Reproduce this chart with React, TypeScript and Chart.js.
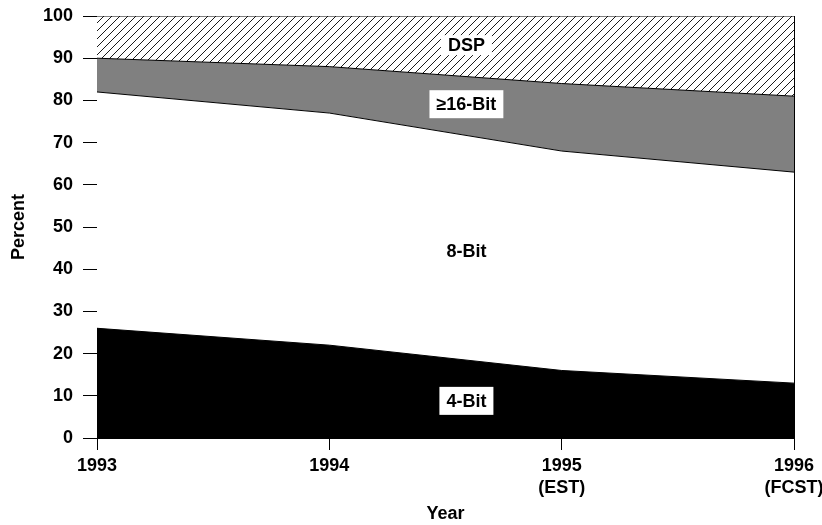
import React, { useEffect, useRef } from "react";
import { Chart, registerables } from "chart.js";

Chart.register(...registerables);

const years = [1993, 1994, 1995, 1996];
const xTickLabels: Record<number, string[]> = {
  1993: ["1993"],
  1994: ["1994"],
  1995: ["1995", "(EST)"],
  1996: ["1996", "(FCST)"],
};
// upper boundary of each band (percent, cumulative)
const fourBitTop = [26, 22, 16, 13];
const eightBitTop = [82, 77, 68, 63];
const sixteenBitTop = [90, 88, 84, 81];
const dspTop = [100, 100, 100, 100];

const labelTexts = ["DSP", "\u226516-Bit", "8-Bit", "4-Bit"];
const labelX = [1994.59, 1994.59, 1994.59, 1994.59];
const labelY = [93.1, 79.1, 44.2, 8.8];
const labelBox = [true, true, false, true];

const FONT = "'Liberation Sans', Arial, sans-serif";

function makeHatch(): CanvasPattern | string {
  const c = document.createElement("canvas");
  c.width = 8;
  c.height = 8;
  const g = c.getContext("2d");
  if (!g) return "#fff";
  g.fillStyle = "#fff";
  g.fillRect(0, 0, 8, 8);
  g.strokeStyle = "#000";
  g.lineWidth = 0.9;
  g.beginPath();
  g.moveTo(-2, 10);
  g.lineTo(10, -2);
  g.moveTo(-2, 2);
  g.lineTo(2, -2);
  g.moveTo(6, 10);
  g.lineTo(10, 6);
  g.stroke();
  const p = g.createPattern(c, "repeat");
  return p || "#fff";
}

const labelPlugin = {
  id: "bandLabels",
  afterDatasetsDraw(chart: any) {
    const { ctx, scales, chartArea } = chart;
    ctx.save();
    // right border of plot
    ctx.strokeStyle = "#000";
    ctx.lineWidth = 1;
    ctx.beginPath();
    ctx.moveTo(Math.round(chartArea.right) + 0.5, chartArea.top);
    ctx.lineTo(Math.round(chartArea.right) + 0.5, chartArea.bottom);
    ctx.stroke();

    ctx.font = `bold 18px ${FONT}`;
    ctx.textAlign = "center";
    ctx.textBaseline = "middle";
    labelTexts.forEach((t, i) => {
      const x = scales.x.getPixelForValue(labelX[i]);
      const y = scales.y.getPixelForValue(labelY[i]);
      const w = ctx.measureText(t).width;
      if (labelBox[i]) {
        ctx.fillStyle = "#fff";
        const h = i === 0 ? 20 : 28;
        ctx.fillRect(x - w / 2 - 7, y - h / 2, w + 14, h);
      }
      ctx.fillStyle = "#000";
      ctx.fillText(t, x, y + 1);
    });
    ctx.restore();
  },
};

export default function App() {
  const ref = useRef<HTMLCanvasElement>(null);
  useEffect(() => {
    document.body.style.margin = "0";
    if (!ref.current) return;
    const hatch = makeHatch();
    const mk = (label: string, top: number[], fill: any, bg: any) => ({
      label,
      data: years.map((y, i) => ({ x: y, y: top[i] })),
      fill,
      backgroundColor: bg,
      borderColor: "#000",
      borderWidth: 1,
      pointRadius: 0,
      tension: 0,
    });
    const chart = new Chart(ref.current, {
      type: "line",
      data: {
        datasets: [
          mk("4-Bit", fourBitTop, "origin", "#000"),
          mk("8-Bit", eightBitTop, "-1", "#fff"),
          mk("\u226516-Bit", sixteenBitTop, "-1", "#808080"),
          mk("DSP", dspTop, "-1", hatch),
        ],
      },
      options: {
        animation: false,
        responsive: true,
        maintainAspectRatio: false,
        layout: { padding: { top: 16, right: 28, left: 0, bottom: 0 } },
        plugins: { legend: { display: false }, tooltip: { enabled: false } },
        scales: {
          x: {
            type: "linear",
            min: 1993,
            max: 1996,
            afterBuildTicks: (s: any) => {
              s.ticks = years.map((v) => ({ value: v }));
            },
            afterFit: (s: any) => {
              s.height = 87;
              s.paddingLeft = 0;
              s.paddingRight = 0;
            },
            ticks: {
              color: "#000",
              font: { family: FONT, size: 18, weight: "bold", lineHeight: 1.22 },
              padding: 5,
              maxRotation: 0,
              autoSkip: false,
              callback: (v: any) => xTickLabels[v as number] || "",
            },
            grid: {
              drawOnChartArea: false,
              tickLength: 12,
              color: "#000",
            },
            border: { display: true, color: "#000", width: 1 },
            title: {
              display: true,
              text: "Year",
              color: "#000",
              font: { family: FONT, size: 18, weight: "bold" },
              padding: { top: 0, bottom: 0 },
            },
          },
          y: {
            min: 0,
            max: 100,
            afterFit: (s: any) => {
              s.width = 97;
              s.paddingTop = 0;
              s.paddingBottom = 0;
            },
            ticks: {
              stepSize: 10,
              color: "#000",
              font: { family: FONT, size: 18, weight: "bold" },
              padding: 10,
            },
            grid: {
              drawOnChartArea: false,
              tickLength: 14,
              color: "#000",
            },
            border: { display: true, color: "#000", width: 1 },
            title: {
              display: true,
              text: "Percent",
              color: "#000",
              font: { family: FONT, size: 18, weight: "bold" },
              padding: { top: 8, bottom: 0 },
            },
          },
        },
      },
      plugins: [labelPlugin],
    } as any);
    return () => chart.destroy();
  }, []);
  return (
    <div style={{ width: 822, height: 525, position: "relative" }}>
      <canvas ref={ref} />
    </div>
  );
}
